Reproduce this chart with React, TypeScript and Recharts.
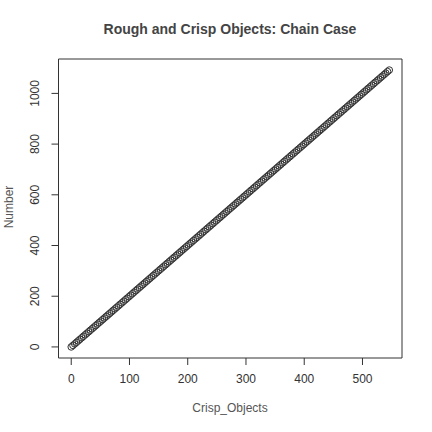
import { ScatterChart, Scatter, XAxis, YAxis, ReferenceArea } from 'recharts';

const crispObjects = [
  0, 3, 6, 9, 12, 15, 18, 21, 24, 27, 30, 33, 36, 39, 42, 45, 48, 51, 54, 57, 60,
  63, 66, 69, 72, 75, 78, 81, 84, 87, 90, 93, 96, 99, 102, 105, 108, 111, 114, 117,
  120, 123, 126, 129, 132, 135, 138, 141, 144, 147, 150, 153, 156, 159, 162, 165,
  168, 171, 174, 177, 180, 183, 186, 189, 192, 195, 198, 201, 204, 207, 210, 213,
  216, 219, 222, 225, 228, 231, 234, 237, 240, 243, 246, 249, 252, 255, 258, 261,
  264, 267, 270, 273, 276, 279, 282, 285, 288, 291, 294, 297, 300, 303, 306, 309,
  312, 315, 318, 321, 324, 327, 330, 333, 336, 339, 342, 345, 348, 351, 354, 357,
  360, 363, 366, 369, 372, 375, 378, 381, 384, 387, 390, 393, 396, 399, 402, 405,
  408, 411, 414, 417, 420, 423, 426, 429, 432, 435, 438, 441, 444, 447, 450, 453,
  456, 459, 462, 465, 468, 471, 474, 477, 480, 483, 486, 489, 492, 495, 498, 501,
  504, 507, 510, 513, 516, 519, 522, 525, 528, 531, 534, 537, 540, 543, 546,
];

const numbers = [
  0, 6, 12, 18, 24, 30, 36, 42, 48, 54, 60, 66, 72, 78, 84, 90, 96, 102, 108, 114,
  120, 126, 132, 138, 144, 150, 156, 162, 168, 174, 180, 186, 192, 198, 204, 210,
  216, 222, 228, 234, 240, 246, 252, 258, 264, 270, 276, 282, 288, 294, 300, 306,
  312, 318, 324, 330, 336, 342, 348, 354, 360, 366, 372, 378, 384, 390, 396, 402,
  408, 414, 420, 426, 432, 438, 444, 450, 456, 462, 468, 474, 480, 486, 492, 498,
  504, 510, 516, 522, 528, 534, 540, 546, 552, 558, 564, 570, 576, 582, 588, 594,
  600, 606, 612, 618, 624, 630, 636, 642, 648, 654, 660, 666, 672, 678, 684, 690,
  696, 702, 708, 714, 720, 726, 732, 738, 744, 750, 756, 762, 768, 774, 780, 786,
  792, 798, 804, 810, 816, 822, 828, 834, 840, 846, 852, 858, 864, 870, 876, 882,
  888, 894, 900, 906, 912, 918, 924, 930, 936, 942, 948, 954, 960, 966, 972, 978,
  984, 990, 996, 1002, 1008, 1014, 1020, 1026, 1032, 1038, 1044, 1050, 1056, 1062,
  1068, 1074, 1080, 1086, 1092,
];

const xTicks = [0, 100, 200, 300, 400, 500];
const yTicks = [0, 200, 400, 600, 800, 1000];

const data = crispObjects.map((x, i) => ({ x, y: numbers[i] }));

// R pads the data range by 4% on each side
const pad = (lo: number, hi: number): [number, number] => {
  const d = (hi - lo) * 0.04;
  return [lo - d, hi + d];
};
const xDomain = pad(Math.min(...crispObjects), Math.max(...crispObjects));
const yDomain = pad(Math.min(...numbers), Math.max(...numbers));

const font = '"Liberation Sans", Arial, Helvetica, sans-serif';

const RingDot = (props: any) => {
  const { cx, cy } = props;
  return <circle cx={cx} cy={cy} r={3.3} fill="none" stroke="#333" strokeWidth={1} />;
};

const YTick = (props: any) => {
  const { x, y, payload } = props;
  return (
    <text
      x={x - 4}
      y={y}
      transform={`rotate(-90, ${x - 4}, ${y})`}
      textAnchor="middle"
      fill="#333"
      fontSize={12}
      fontFamily={font}
    >
      {payload.value}
    </text>
  );
};

export default function App() {
  return (
    <div style={{ position: 'absolute', left: 0, top: 0, width: 432, height: 432, background: '#fff', fontFamily: font }}>
      <div
        style={{
          position: 'absolute',
          left: 0,
          top: 21,
          width: 460,
          textAlign: 'center',
          fontSize: 14,
          fontWeight: 700,
          color: '#444',
        }}
      >
        Rough and Crisp Objects: Chain Case
      </div>
      <ScatterChart width={432} height={432} margin={{ top: 59, right: 30, bottom: 34, left: 18.5 }}>
        <XAxis
          type="number"
          dataKey="x"
          domain={xDomain}
          ticks={xTicks}
          axisLine={false}
          tickSize={7}
          tickMargin={9}
          tickLine={{ stroke: '#333' }}
          tick={{ fill: '#333', fontSize: 12, fontFamily: font }}
          height={40}
          allowDataOverflow
        />
        <YAxis
          type="number"
          dataKey="y"
          domain={yDomain}
          ticks={yTicks}
          axisLine={false}
          tickSize={7}
          tickMargin={8}
          tickLine={{ stroke: '#333' }}
          tick={<YTick />}
          width={40}
          allowDataOverflow
        />
        <ReferenceArea
          x1={xDomain[0]}
          x2={xDomain[1]}
          y1={yDomain[0]}
          y2={yDomain[1]}
          fill="none"
          stroke="#333"
          strokeWidth={1}
          ifOverflow="visible"
        />
        <Scatter data={data} shape={<RingDot />} isAnimationActive={false} />
      </ScatterChart>
      <div
        style={{
          position: 'absolute',
          left: 58,
          top: 401,
          width: 344,
          textAlign: 'center',
          fontSize: 12,
          color: '#555',
        }}
      >
        Crisp_Objects
      </div>
      <div
        style={{
          position: 'absolute',
          left: 9 - 50,
          top: 208 - 8,
          width: 100,
          textAlign: 'center',
          fontSize: 12,
          color: '#555',
          transform: 'rotate(-90deg)',
        }}
      >
        Number
      </div>
    </div>
  );
}
